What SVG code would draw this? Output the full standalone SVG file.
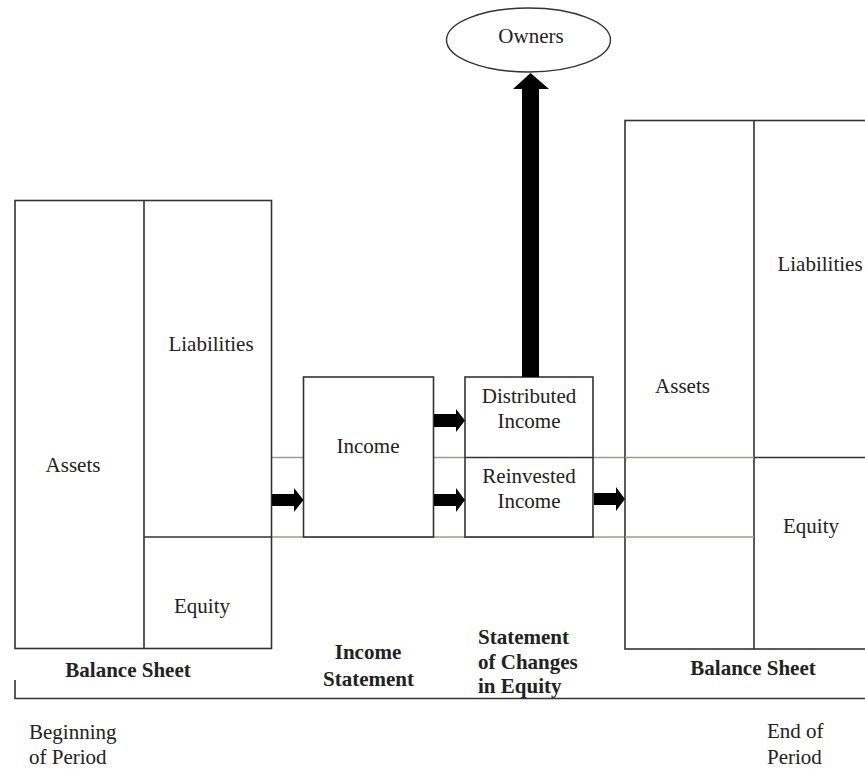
<svg xmlns="http://www.w3.org/2000/svg" width="865" height="769" viewBox="0 0 865 769">
<style>
.box{fill:#fff;stroke:#333;stroke-width:1.6}
.ln{stroke:#333;stroke-width:1.6;fill:none}
.tan{stroke:#a39b8a;stroke-width:1.6;fill:none}
.t{font-family:"Liberation Serif","Times New Roman",serif;font-size:21px;fill:#222;text-anchor:middle}
.b{font-weight:bold}
.l{text-anchor:start}
.arr{fill:#000}
</style>
<rect width="865" height="769" fill="#fff"/>
<g id="guides">
<line class="tan" x1="271" y1="457.5" x2="754" y2="457.5"/>
<line class="tan" x1="271" y1="537" x2="754" y2="537"/>
</g>
<g id="bs-begin">
<rect class="box" x="15" y="200.5" width="256.5" height="448"/>
<line class="ln" x1="144" y1="200.5" x2="144" y2="648.5"/>
<line class="ln" x1="144" y1="537" x2="271.5" y2="537"/>
<text class="t" x="73" y="472">Assets</text>
<text class="t" x="211" y="351">Liabilities</text>
<text class="t" x="202" y="613">Equity</text>
<text class="t b" x="128" y="677">Balance Sheet</text>
</g>
<g id="income">
<rect class="box" x="303.5" y="377" width="130" height="160"/>
<text class="t" x="368" y="453">Income</text>
</g>
<g id="equity-changes">
<rect class="box" x="465" y="377" width="128" height="160"/>
<line class="ln" x1="465" y1="457.5" x2="593" y2="457.5"/>
<text class="t" x="529" y="403">Distributed</text>
<text class="t" x="529" y="428">Income</text>
<text class="t" x="529" y="483">Reinvested</text>
<text class="t" x="529" y="508">Income</text>
</g>
<g id="owners">
<ellipse cx="528.5" cy="40" rx="82" ry="32" fill="#fff" stroke="#333" stroke-width="1.4"/>
<text class="t" x="531" y="43">Owners</text>
</g>
<g id="bs-end">
<rect class="box" x="625" y="120.5" width="250" height="528.5"/>
<line class="ln" x1="754" y1="120.5" x2="754" y2="649"/>
<line class="ln" x1="754" y1="457.5" x2="865" y2="457.5"/>
<line class="tan" x1="625" y1="457.5" x2="754" y2="457.5"/>
<line class="tan" x1="625" y1="537" x2="754" y2="537"/>
<text class="t" x="682.5" y="393">Assets</text>
<text class="t" x="820" y="271">Liabilities</text>
<text class="t" x="811" y="533">Equity</text>
<text class="t b" x="753" y="675">Balance Sheet</text>
</g>
<g id="labels">
<text class="t b" x="368" y="659">Income</text>
<text class="t b" x="368.5" y="686">Statement</text>
<text class="t b l" x="478" y="644">Statement</text>
<text class="t b l" x="478" y="669">of Changes</text>
<text class="t b l" x="478" y="693">in Equity</text>
<text class="t l" x="29" y="739">Beginning</text>
<text class="t l" x="29" y="764">of Period</text>
<text class="t l" x="767" y="738">End of</text>
<text class="t l" x="767" y="764">Period</text>
</g>
<g id="timeline">
<polyline class="ln" points="15,680 15,698.5 865,698.5"/>
</g>
<g id="connectors">
<polygon class="arr" points="272,494 294,494 294,488 303.5,500 294,512 294,506 272,506"/>
<polygon class="arr" points="434,414 456,414 456,409 465,420.5 456,432 456,427 434,427"/>
<polygon class="arr" points="434,494 456,494 456,488 465,500 456,512 456,506 434,506"/>
<polygon class="arr" points="594,493 616,493 616,487 625,499 616,511 616,505 594,505"/>
<polygon class="arr" points="522,377 522,89 513,89 530.5,73 549,89 539,89 539,377"/>
</g>
</svg>
